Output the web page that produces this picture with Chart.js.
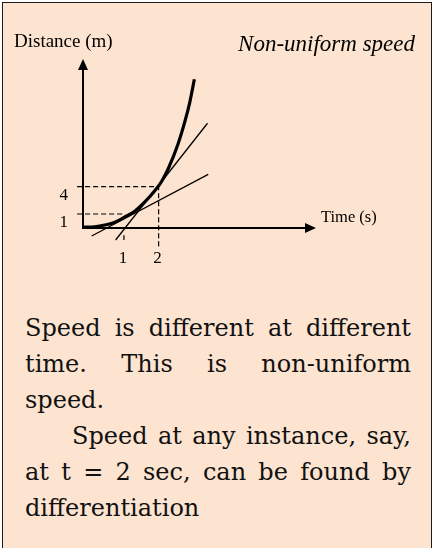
<!DOCTYPE html>
<html>
<head>
<meta charset="utf-8">
<script src="https://cdn.jsdelivr.net/npm/chart.js@4.4.1/dist/chart.umd.min.js"></script>
<style>
    html, body {
        margin: 0;
        padding: 0;
        width: 434px;
        height: 548px;
        overflow: hidden;
        background: #fff;
    }
    .frame {
        position: absolute;
        left: 2px;
        top: 2px;
        width: 428px;
        height: 580px;
        border: 1.5px solid #1c1c1c;
        background: #fde4d0;
    }
    #chart-box {
        position: absolute;
        left: 0;
        top: 0;
        width: 434px;
        height: 280px;
    }
    .notes {
        position: absolute;
        left: 25px;
        top: 310px;
        width: 386px;
        font-family: "DejaVu Serif", serif;
        font-size: 24px;
        line-height: 36px;
        color: #111;
    }
    .notes .full {
        text-align: justify;
        text-align-last: justify;
        white-space: nowrap;
    }
    .notes .indent {
        padding-left: 47px;
    }
</style>
</head>
<body>
<div class="frame"></div>
<div id="chart-box"><canvas id="chart" width="434" height="280"></canvas></div>
<div class="notes">
    <div class="full">Speed is different at different</div>
    <div class="full">time. This is non-uniform</div>
    <div>speed.</div>
    <div class="full indent">Speed at any instance, say,</div>
    <div class="full">at t = 2 sec, can be found by</div>
    <div>differentiation</div>
</div>

<script>
// distance-time curve (schematic units)
const curveTime = [-0.17, 0.16, 0.45, 0.74, 1.03, 1.32, 1.61, 1.89, 2.09, 2.28, 2.56, 2.76, 2.9, 3.03];
const curveDist = [-0.45, -0.4, -0.21, 0.09, 0.68, 1.33, 2.35, 3.55, 4.6, 6.0, 8.7, 11.2, 13.3, 15.8];

// straight lines touching the curve
const tangentLowTime = [0.07, 3.43];
const tangentLowDist = [-1.42, 5.36];
const tangentHighTime = [0.76, 3.41];
const tangentHighDist = [-1.86, 10.97];

// dashed guides to the marked readings
const guideFourTime = [-0.35, 2, 2];
const guideFourDist = [4, 4, -2.74];
const guideOneTime = [-0.35, 1];
const guideOneDist = [1, 1];
const markOneTime = [1, 1];
const markOneDist = [-1.35, -1.85];

const xTickValues = [1, 2];
const yTickValues = [1, 4];

const xLabel = 'Time (s)';
const yLabel = 'Distance (m)';
const heading = 'Non-uniform speed';

function toPoints(xs, ys) {
    return xs.map((x, i) => ({ x: x, y: ys[i] }));
}

function lineSet(xs, ys, width, dash) {
    return {
        data: toPoints(xs, ys),
        borderColor: '#000',
        borderWidth: width,
        borderDash: dash || [],
        pointRadius: 0,
        fill: false,
        clip: false,
        tension: 0
    };
}

// arrow heads on the axes plus the axis captions
const axisDecor = {
    id: 'axisDecor',
    afterDraw(chart) {
        const ctx = chart.ctx;
        const area = chart.chartArea;
        ctx.save();
        ctx.fillStyle = '#000';

        ctx.beginPath();
        ctx.moveTo(area.right + 11, area.bottom);
        ctx.lineTo(area.right, area.bottom - 5);
        ctx.lineTo(area.right, area.bottom + 5);
        ctx.closePath();
        ctx.fill();

        ctx.beginPath();
        ctx.moveTo(area.left, area.top - 11);
        ctx.lineTo(area.left - 5, area.top);
        ctx.lineTo(area.left + 5, area.top);
        ctx.closePath();
        ctx.fill();

        ctx.textBaseline = 'alphabetic';
        ctx.font = '19px "Liberation Serif"';
        ctx.textAlign = 'left';
        ctx.fillText(yLabel, 14, 47);

        ctx.font = '16.5px "Liberation Serif"';
        ctx.fillText(xLabel, area.right + 16, area.bottom - 6);

        ctx.font = 'italic 23px "Liberation Serif"';
        ctx.textAlign = 'right';
        ctx.fillText(heading, 415, 51);
        ctx.restore();
    }
};

const tickFont = { family: 'Liberation Serif', size: 17 };

new Chart(document.getElementById('chart'), {
    type: 'line',
    data: {
        datasets: [
            Object.assign(lineSet(curveTime, curveDist, 3.2), {
                tension: 0.4,
                cubicInterpolationMode: 'monotone'
            }),
            lineSet(tangentLowTime, tangentLowDist, 1.3),
            lineSet(tangentHighTime, tangentHighDist, 1.3),
            lineSet(guideFourTime, guideFourDist, 1.2, [5, 3]),
            lineSet(guideOneTime, guideOneDist, 1.2, [5, 3]),
            lineSet(markOneTime, markOneDist, 1.2)
        ]
    },
    options: {
        responsive: false,
        animation: false,
        events: [],
        layout: {
            padding: { top: 70, right: 129, left: 0, bottom: 0 }
        },
        plugins: {
            legend: { display: false },
            tooltip: { enabled: false }
        },
        scales: {
            x: {
                type: 'linear',
                min: -0.18,
                max: 6.22,
                grid: { display: false, drawTicks: false },
                border: { display: true, color: '#000', width: 2 },
                afterBuildTicks: scale => {
                    scale.ticks = xTickValues.map(v => ({ value: v }));
                },
                afterFit: scale => {
                    scale.height = 52;
                },
                ticks: {
                    color: '#000',
                    font: tickFont,
                    padding: 20,
                    labelOffset: -1,
                    maxRotation: 0
                }
            },
            y: {
                type: 'linear',
                min: -0.54,
                max: 16.82,
                grid: { display: false, drawTicks: false },
                border: { display: true, color: '#000', width: 2 },
                afterBuildTicks: scale => {
                    scale.ticks = yTickValues.map(v => ({ value: v }));
                },
                afterFit: scale => {
                    scale.width = 83;
                },
                ticks: {
                    color: '#000',
                    font: tickFont,
                    padding: 15,
                    labelOffset: 9
                }
            }
        }
    },
    plugins: [axisDecor]
});
</script>
</body>
</html>
